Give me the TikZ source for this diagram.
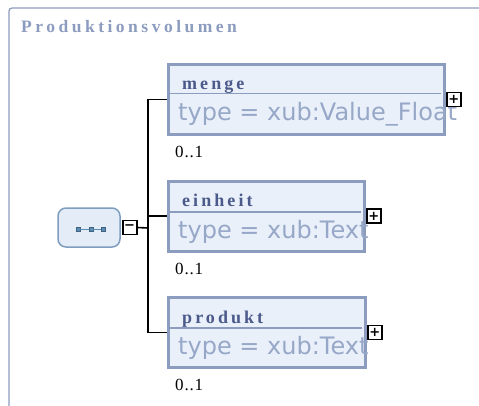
\documentclass[tikz,border=0pt]{standalone}
\usepackage{fontspec}
\setmainfont{Liberation Serif}
\newfontfamily\typefont{DejaVu Sans}
\newfontfamily\namefont[LetterSpace=17]{Liberation Serif}
\newfontfamily\titlefont[LetterSpace=20]{Liberation Serif}
\newfontfamily\occfont[LetterSpace=5]{Liberation Serif}
\usepackage{xcolor}
\usetikzlibrary{positioning,calc}

\definecolor{framecol}{HTML}{8C9CBF}
\definecolor{namecol}{HTML}{4B5A8A}
\definecolor{typecol}{HTML}{97A7C7}
\definecolor{boxfill}{HTML}{E9F0FA}
\definecolor{seqfill}{HTML}{E4EDF7}
\definecolor{seqdraw}{HTML}{7F9DBE}
\definecolor{dotcol}{HTML}{5A8CB6}

\begin{document}
\begin{tikzpicture}[
    x=1pt, y=-1pt,
    element/.style={draw=framecol, fill=boxfill, line width=3pt, minimum height=70pt, inner sep=0pt},
    elname/.style={anchor=base west, inner sep=0pt, text=namecol, font=\namefont\bfseries\fontsize{18}{18}\selectfont},
    eltype/.style={anchor=base west, inner sep=0pt, text=typecol, font=\typefont\fontsize{24}{24}\selectfont},
    occurs/.style={anchor=base west, inner sep=0pt, font=\occfont\fontsize{17}{17}\selectfont},
    toggle/.style={draw, line width=1.8pt, fill=white, minimum size=14pt, inner sep=0pt, font=\typefont\bfseries\fontsize{13}{13}\selectfont},
    seqbox/.style={draw=seqdraw, fill=seqfill, line width=1.5pt, rounded corners=8pt, minimum width=62pt, minimum height=39pt},
    seqdot/.style={draw=dotcol!70!black, fill=dotcol, line width=0.5pt, minimum size=4pt, inner sep=0pt},
    wire/.style={line width=1.6pt}
]
\useasboundingbox (0,0) rectangle (479,405);

% Rahmen
\draw[framecol, line width=1.3pt, rounded corners=3pt] (9,420) -- (9,8) -- (500,8);
\node[anchor=base west, inner sep=0pt, text=framecol, font=\titlefont\bfseries\fontsize{17.5}{17.5}\selectfont] (title) at (21,32.5) {Produktionsvolumen};

% Sequenz
\node[seqbox] (seq) at (89,227.5) {};
\node[seqdot] (dot1) at (78,229) {};
\node[seqdot] (dot2) at (91,229) {};
\node[seqdot] (dot3) at (103,229) {};
\draw[dotcol, line width=0.8pt] (dot1) -- (dot2) -- (dot3);
\node[toggle, right=1pt of seq] (seqminus) {−};

% menge
\node[element, minimum width=276pt] (menge) at (306.5,99.5) {};
\draw[framecol, line width=1.2pt] ($(menge.west)+(0,-6)$) -- ($(menge.east)+(-5,-6)$);
\node[elname] (mengename) at (182,89.5) {menge};
\node[eltype] (mengetype) at (178,120.5) {type = xub:Value\_Float};
\node[toggle, right=0pt of menge] (mengeplus) {+};
\node[occurs] (mengeocc) at (175,157) {0..1};

% einheit
\node[element, minimum width=196pt] (einheit) at (266.5,216) {};
\draw[framecol, line width=1.2pt] ($(einheit.west)+(0,-4)$) -- ($(einheit.east)+(-5,-4)$);
\node[elname] (einheitname) at (182,206) {einheit};
\node[eltype] (einheittype) at (178,238) {type = xub:Text};
\node[toggle, right=0pt of einheit] (einheitplus) {+};
\node[occurs] (einheitocc) at (175,274) {0..1};

% produkt
\node[element, minimum width=197pt] (produkt) at (267,332.5) {};
\draw[framecol, line width=1.2pt] ($(produkt.west)+(0,-4.5)$) -- ($(produkt.east)+(-5,-4.5)$);
\node[elname] (produktname) at (182,323) {produkt};
\node[eltype] (produkttype) at (178,354) {type = xub:Text};
\node[toggle, right=0pt of produkt] (produktplus) {+};
\node[occurs] (produktocc) at (175,390) {0..1};

% Verbindungen
\coordinate (fork) at (148,228);
\draw[wire] (seqminus.east) -- (fork);
\draw[wire] (fork) |- (menge.west);
\draw[wire] (fork) |- (einheit.west);
\draw[wire] (fork) |- (produkt.west);

\end{tikzpicture}
\end{document}
